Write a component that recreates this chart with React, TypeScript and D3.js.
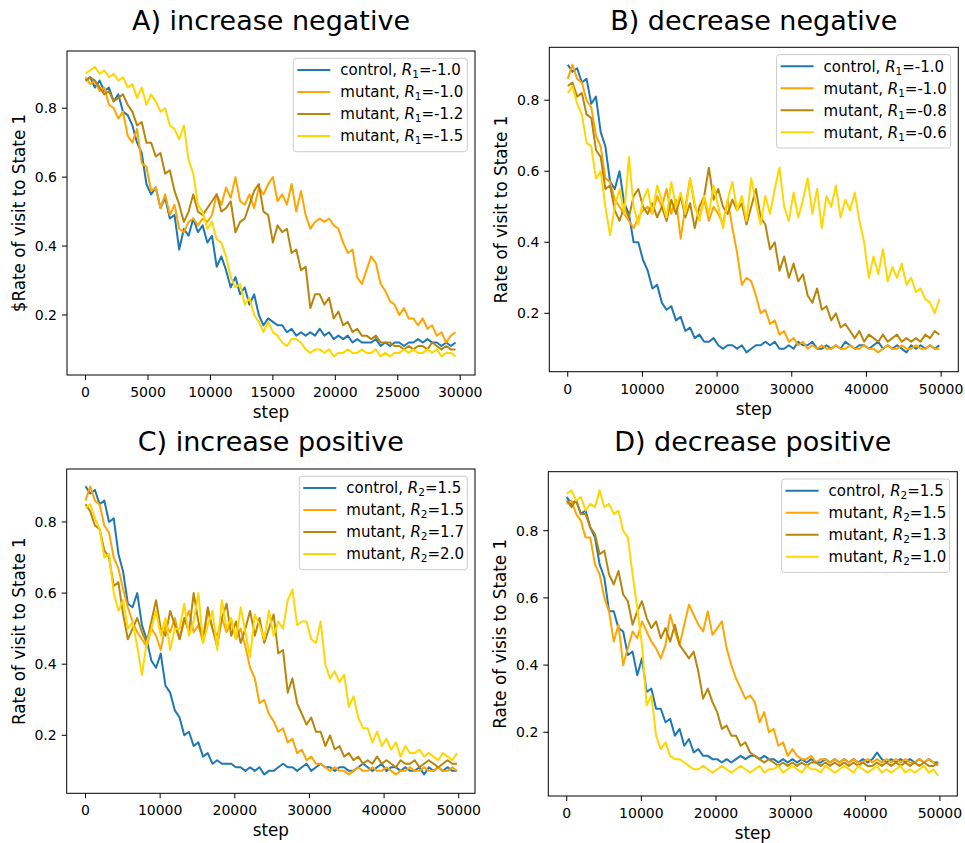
import React from 'react';
import * as d3 from 'd3';

// colours used by the four runs in every panel
const colors = ['#1f77b4', '#ffa500', '#b8860b', '#ffd700'];

// x grid of the recorded runs
const stepsA = d3.range(80).map((i) => i * 375);
const stepsB = d3.range(80).map((i) => i * 630);

const xTicksA = [0, 5000, 10000, 15000, 20000, 25000, 30000];
const xTicksB = [0, 10000, 20000, 30000, 40000, 50000];
const yTicks = [0.2, 0.4, 0.6, 0.8];

// A) increase negative
const ctrlA = [
  .88, .89, .86, .88, .85, .86, .82, .84, .79, .78,
  .75, .70, .67, .58, .55, .57, .51, .54, .48, .49,
  .39, .45, .43, .48, .44, .46, .41, .43, .34, .37,
  .33, .28, .31, .26, .28, .23, .26, .20, .17, .19,
  .18, .17, .17, .15, .16, .14, .15, .14, .15, .14,
  .16, .14, .15, .13, .14, .13, .14, .12, .13, .12,
  .12, .12, .13, .11, .12, .11, .12, .12, .11, .12,
  .12, .13, .12, .13, .12, .12, .11, .12, .11, .12];
const mutA10 = [
  .89, .87, .88, .85, .86, .81, .80, .77, .79, .72,
  .70, .74, .64, .63, .56, .57, .51, .55, .49, .52,
  .45, .44, .47, .48, .46, .48, .47, .49, .55, .52,
  .57, .54, .60, .53, .52, .55, .51, .57, .55, .58,
  .60, .53, .55, .52, .58, .50, .56, .49, .45, .47,
  .48, .47, .48, .46, .45, .41, .38, .39, .31, .29,
  .33, .37, .35, .29, .27, .24, .23, .20, .22, .19,
  .19, .17, .19, .16, .17, .14, .15, .12, .14, .15];
const mutA12 = [
  .88, .89, .88, .86, .84, .85, .82, .83, .84, .81,
  .79, .75, .76, .70, .70, .66, .67, .61, .62, .56,
  .52, .47, .50, .55, .50, .49, .51, .53, .55, .50,
  .51, .53, .44, .47, .48, .52, .56, .58, .50, .49,
  .41, .46, .44, .45, .38, .39, .33, .34, .22, .26,
  .26, .23, .25, .19, .21, .17, .18, .15, .16, .14,
  .14, .13, .14, .12, .12, .12, .11, .11, .10, .11,
  .10, .11, .11, .10, .12, .11, .10, .11, .10, .10];
const mutA15 = [
  .90, .91, .92, .90, .91, .89, .90, .88, .89, .86,
  .87, .83, .86, .81, .84, .82, .79, .80, .75, .74,
  .71, .75, .65, .61, .52, .50, .45, .47, .42, .41,
  .37, .31, .28, .29, .23, .25, .20, .18, .15, .18,
  .15, .14, .12, .11, .13, .13, .12, .10, .09, .10,
  .10, .09, .10, .08, .09, .09, .10, .09, .09, .10,
  .09, .09, .10, .08, .09, .08, .09, .09, .10, .09,
  .10, .09, .09, .10, .09, .10, .08, .09, .09, .08];

// B) decrease negative
const ctrlB = [
  .90, .88, .89, .85, .86, .79, .81, .71, .67, .57,
  .55, .60, .51, .48, .40, .40, .35, .32, .27, .28,
  .23, .21, .22, .18, .19, .15, .16, .13, .14, .12,
  .12, .13, .11, .10, .11, .11, .10, .11, .09, .10,
  .11, .11, .12, .11, .12, .10, .10, .11, .10, .12,
  .11, .11, .12, .10, .10, .11, .10, .11, .10, .12,
  .11, .10, .11, .11, .10, .11, .12, .10, .11, .10,
  .11, .10, .09, .11, .10, .11, .10, .11, .10, .11];
const mutB10 = [
  .86, .90, .86, .85, .80, .78, .70, .67, .58, .57,
  .52, .50, .48, .46, .44, .47, .49, .50, .48, .53,
  .50, .55, .48, .52, .41, .50, .58, .50, .47, .52,
  .46, .50, .48, .45, .52, .44, .37, .28, .30, .29,
  .25, .20, .21, .17, .18, .14, .15, .12, .13, .11,
  .12, .10, .11, .10, .11, .10, .10, .11, .10, .10,
  .11, .10, .10, .11, .10, .10, .09, .10, .11, .10,
  .10, .11, .10, .10, .11, .10, .10, .11, .10, .10];
const mutB08 = [
  .84, .85, .81, .82, .76, .75, .66, .64, .55, .56,
  .49, .46, .50, .47, .53, .55, .50, .48, .51, .47,
  .50, .46, .52, .48, .53, .47, .51, .44, .50, .53,
  .61, .52, .55, .50, .48, .52, .49, .51, .45, .50,
  .55, .47, .45, .38, .40, .32, .36, .30, .34, .29,
  .31, .25, .23, .27, .21, .22, .18, .20, .16, .17,
  .15, .13, .15, .12, .14, .13, .12, .14, .12, .13,
  .14, .12, .13, .12, .13, .12, .14, .13, .15, .14];
const mutB06 = [
  .82, .84, .79, .76, .68, .67, .58, .60, .50, .42,
  .50, .55, .48, .64, .50, .45, .52, .55, .48, .56,
  .52, .47, .57, .50, .54, .48, .58, .51, .46, .53,
  .48, .56, .50, .44, .52, .57, .49, .53, .46, .58,
  .51, .45, .53, .48, .55, .61, .50, .46, .54, .47,
  .52, .58, .48, .55, .44, .53, .50, .56, .47, .52,
  .49, .54, .46, .40, .30, .36, .31, .38, .29, .33,
  .30, .34, .28, .30, .26, .27, .24, .23, .20, .24];

// C) increase positive
const ctrlC = [
  .90, .88, .89, .85, .86, .80, .81, .71, .66, .57,
  .56, .60, .51, .47, .41, .39, .43, .34, .32, .27,
  .25, .20, .21, .17, .18, .14, .15, .12, .13, .12,
  .12, .12, .11, .11, .10, .11, .10, .11, .09, .10,
  .10, .11, .12, .11, .11, .10, .11, .12, .10, .11,
  .12, .11, .11, .10, .11, .11, .10, .10, .11, .12,
  .11, .10, .11, .12, .10, .11, .11, .10, .11, .10,
  .10, .11, .09, .11, .10, .11, .10, .11, .10, .10];
const mutC15 = [
  .86, .90, .86, .85, .79, .77, .70, .67, .61, .56,
  .52, .49, .47, .45, .50, .48, .44, .51, .49, .53,
  .47, .52, .55, .49, .51, .46, .55, .50, .48, .53,
  .49, .52, .47, .50, .45, .39, .36, .29, .30, .26,
  .24, .21, .22, .18, .19, .15, .16, .13, .14, .12,
  .12, .11, .10, .11, .10, .10, .09, .10, .11, .10,
  .10, .11, .10, .10, .11, .10, .09, .10, .10, .11,
  .10, .10, .11, .10, .10, .11, .10, .10, .11, .10];
const mutC17 = [
  .85, .83, .79, .78, .72, .70, .62, .63, .54, .47,
  .50, .53, .49, .46, .52, .58, .50, .48, .55, .51,
  .47, .53, .49, .60, .52, .47, .56, .50, .45, .53,
  .57, .48, .52, .46, .50, .55, .48, .53, .46, .50,
  .54, .43, .44, .32, .36, .29, .26, .23, .25, .21,
  .21, .17, .20, .16, .17, .14, .15, .13, .14, .12,
  .13, .12, .14, .12, .13, .12, .11, .13, .12, .12,
  .13, .11, .12, .13, .12, .11, .12, .13, .12, .12];
const mutC20 = [
  .84, .85, .81, .78, .70, .71, .60, .55, .58, .50,
  .52, .45, .37, .46, .50, .55, .48, .53, .44, .50,
  .50, .57, .48, .52, .60, .46, .51, .55, .44, .58,
  .50, .53, .47, .56, .49, .42, .54, .51, .47, .55,
  .48, .52, .50, .58, .61, .51, .52, .52, .47, .46,
  .52, .40, .36, .38, .35, .37, .28, .31, .25, .22,
  .22, .18, .21, .17, .19, .16, .18, .14, .17, .15,
  .15, .16, .14, .15, .14, .13, .15, .14, .13, .15];

// D) decrease positive
const ctrlD = [
  .90, .88, .89, .85, .86, .81, .78, .70, .66, .56,
  .56, .51, .50, .43, .44, .37, .42, .32, .33, .27,
  .27, .23, .24, .19, .21, .16, .18, .14, .15, .13,
  .13, .12, .12, .11, .12, .11, .12, .13, .12, .13,
  .13, .12, .13, .12, .12, .11, .12, .11, .12, .11,
  .12, .11, .12, .11, .11, .12, .11, .12, .11, .12,
  .11, .12, .11, .12, .11, .12, .14, .12, .11, .12,
  .11, .12, .11, .12, .11, .12, .11, .12, .11, .11];
const mutD15 = [
  .88, .89, .85, .83, .78, .78, .70, .67, .60, .56,
  .47, .52, .40, .45, .50, .48, .53, .50, .47, .45,
  .42, .46, .55, .50, .46, .52, .58, .55, .52, .50,
  .56, .49, .51, .53, .45, .40, .36, .33, .30, .31,
  .29, .23, .26, .20, .21, .16, .17, .13, .15, .13,
  .12, .12, .13, .11, .12, .12, .11, .12, .11, .12,
  .11, .12, .11, .11, .12, .11, .12, .11, .12, .11,
  .12, .11, .12, .11, .11, .12, .11, .12, .11, .10];
const mutD13 = [
  .89, .87, .89, .85, .85, .81, .79, .73, .74, .67,
  .64, .68, .61, .59, .52, .56, .59, .54, .51, .53,
  .48, .51, .47, .52, .46, .44, .42, .44, .38, .30,
  .33, .29, .26, .21, .22, .19, .19, .16, .17, .14,
  .13, .12, .11, .12, .11, .10, .11, .10, .11, .10,
  .11, .10, .11, .11, .10, .11, .10, .11, .10, .11,
  .10, .11, .10, .11, .10, .10, .11, .10, .11, .10,
  .11, .10, .11, .10, .11, .10, .11, .10, .10, .11];
const mutD10 = [
  .91, .92, .89, .90, .86, .88, .87, .92, .87, .88,
  .85, .86, .80, .78, .67, .57, .46, .28, .31, .19,
  .15, .17, .13, .12, .12, .11, .10, .09, .09, .10,
  .09, .08, .09, .10, .09, .08, .09, .10, .09, .08,
  .09, .10, .08, .09, .09, .10, .08, .09, .10, .09,
  .08, .10, .09, .09, .08, .10, .09, .08, .09, .10,
  .09, .08, .10, .09, .08, .09, .10, .08, .09, .08,
  .09, .10, .08, .09, .08, .09, .10, .08, .09, .07];

// legend entries: run name, reward value
const runNames = ['control', 'mutant', 'mutant', 'mutant'];
const rewardsA = ['-1.0', '-1.0', '-1.2', '-1.5'];
const rewardsB = ['-1.0', '-1.0', '-0.8', '-0.6'];
const rewardsC = ['1.5', '1.5', '1.7', '2.0'];
const rewardsD = ['1.5', '1.5', '1.3', '1.0'];

const panels = [
  {
    title: 'A) increase negative', ylabel: '$Rate of visit to State 1',
    steps: stepsA, xTicks: xTicksA, series: [ctrlA, mutA10, mutA12, mutA15],
    sub: '1', rewards: rewardsA,
    box: { l: 67, r: 475, t: 51, b: 375 }, xDom: [-1485, 31185], yDom: [0.0258, 0.966],
    legendW: 174, titleY: 30,
  },
  {
    title: 'B) decrease negative', ylabel: 'Rate of visit to State 1',
    steps: stepsB, xTicks: xTicksB, series: [ctrlB, mutB10, mutB08, mutB06],
    sub: '1', rewards: rewardsB,
    box: { l: 549.3, r: 958.3, t: 47.3, b: 371.7 }, xDom: [-2470, 52300], yDom: [0.0355, 0.949],
    legendW: 174, titleY: 30,
  },
  {
    title: 'C) increase positive', ylabel: 'Rate of visit to State 1',
    steps: stepsB, xTicks: xTicksB, series: [ctrlC, mutC15, mutC17, mutC20],
    sub: '2', rewards: rewardsC,
    box: { l: 66.7, r: 475, t: 469, b: 793.3 }, xDom: [-2520, 52180], yDom: [0.0369, 0.949],
    legendW: 168, titleY: 451,
  },
  {
    title: 'D) decrease positive', ylabel: 'Rate of visis to State 1',
    steps: stepsB, xTicks: xTicksB, series: [ctrlD, mutD15, mutD13, mutD10],
    sub: '2', rewards: rewardsD,
    box: { l: 548.3, r: 957.3, t: 471.7, b: 796 }, xDom: [-2470, 52330], yDom: [0.0104, 0.9756],
    legendW: 168, titleY: 451,
  },
];

const font = 'DejaVu Sans, sans-serif';

function Panel({ p }: { p: any }) {
  const { box } = p;
  const x = d3.scaleLinear().domain(p.xDom).range([box.l, box.r]);
  const y = d3.scaleLinear().domain(p.yDom).range([box.b, box.t]);
  const line = d3.line<number>().x((d, i) => x(p.steps[i])).y((d) => y(d));
  const cx = (box.l + box.r) / 2;
  const cy = (box.t + box.b) / 2;
  const lx = box.r - 7.7 - p.legendW;
  const ly = box.t + 7.3;

  return (
    <g>
      <text x={cx} y={p.titleY} textAnchor="middle" fontSize={27} fontFamily={font}>{p.title}</text>

      {p.series.map((s: number[], k: number) => (
        <path key={k} d={line(s) || ''} fill="none" stroke={colors[k]} strokeWidth={2} strokeLinejoin="round" />
      ))}

      <rect x={box.l} y={box.t} width={box.r - box.l} height={box.b - box.t} fill="none" stroke="#000" strokeWidth={1} />

      {p.xTicks.map((t: number) => (
        <g key={t}>
          <line x1={x(t)} x2={x(t)} y1={box.b} y2={box.b + 5} stroke="#000" />
          <text x={x(t)} y={box.b + 22} textAnchor="middle" fontSize={14} fontFamily={font}>{t}</text>
        </g>
      ))}
      {yTicks.map((t) => (
        <g key={t}>
          <line x1={box.l - 5} x2={box.l} y1={y(t)} y2={y(t)} stroke="#000" />
          <text x={box.l - 10} y={y(t) + 5} textAnchor="end" fontSize={14} fontFamily={font}>{t.toFixed(1)}</text>
        </g>
      ))}

      <text x={cx} y={box.b + 43} textAnchor="middle" fontSize={16.8} fontFamily={font}>step</text>
      <text transform={`translate(${box.l - 42},${cy}) rotate(-90)`} textAnchor="middle" fontSize={16.8} fontFamily={font}>{p.ylabel}</text>

      <rect x={lx} y={ly} width={p.legendW} height={93.4} rx={3} fill="#fff" fillOpacity={0.8} stroke="#cccccc" />
      {runNames.map((n, k) => {
        const ry = ly + 11.7 + k * 22;
        return (
          <g key={k}>
            <line x1={lx + 4} x2={lx + 37} y1={ry} y2={ry} stroke={colors[k]} strokeWidth={2} />
            <text x={lx + 47} y={ry + 5.3} fontSize={15} fontFamily={font}>
              {n + ', '}
              <tspan fontStyle="italic">R</tspan>
              <tspan dy={3} fontSize={10.5}>{p.sub}</tspan>
              <tspan dy={-3}>{'=' + p.rewards[k]}</tspan>
            </text>
          </g>
        );
      })}
    </g>
  );
}

export default function App() {
  return (
    <svg width={965} height={843} style={{ position: 'absolute', left: 0, top: 0, background: '#fff' }}>
      <rect width={965} height={843} fill="#fff" />
      {panels.map((p, i) => <Panel key={i} p={p} />)}
    </svg>
  );
}
